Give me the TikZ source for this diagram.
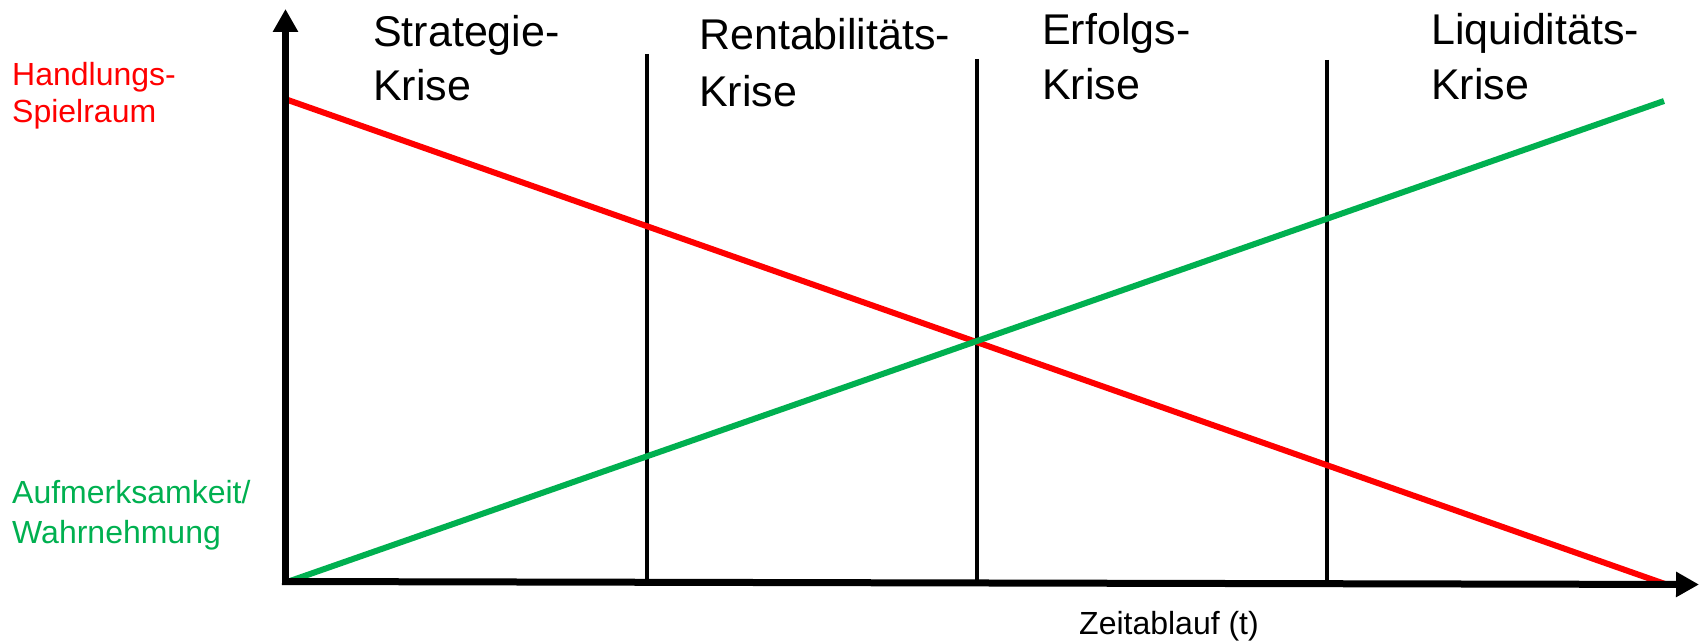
\documentclass[tikz,border=0pt]{standalone}
\usepackage{fontspec}
\setmainfont{Liberation Sans}
\usetikzlibrary{arrows.meta}
\definecolor{kred}{RGB}{255,0,0}
\definecolor{kgreen}{RGB}{0,176,80}
\begin{document}
\begin{tikzpicture}[x=1pt,y=-1pt,
  axis/.style={line width=7pt,-{Triangle[length=23pt,width=24pt]}},
  phase/.style={line width=3.5pt},
  curve/.style={line width=6pt},
  big/.style={anchor=base west,inner sep=0pt,font=\fontsize{43}{50}\selectfont},
  side/.style={anchor=base west,inner sep=0pt,font=\fontsize{32}{37}\selectfont},
  small/.style={anchor=base west,inner sep=0pt,font=\fontsize{32}{36}\selectfont}]
\useasboundingbox (0,0) rectangle (1700,644);
% axis points
\coordinate (o) at (282,581.5);
\coordinate (ob) at (285.5,585);
\coordinate (xend) at (1699,584.5);
\coordinate (ytop) at (285.5,9);
% phase lines
\coordinate (p1t) at (647,54);
\coordinate (p1b) at (647,582);
\coordinate (p2t) at (977,59);
\coordinate (p2b) at (977,583);
\coordinate (p3t) at (1327,60);
\coordinate (p3b) at (1327,583);
\draw[phase] (p1t) -- (p1b);
\draw[phase] (p2t) -- (p2b);
\draw[phase] (p3t) -- (p3b);
% curves
\coordinate (rs) at (285,99);
\coordinate (re) at (1665,584);
\coordinate (gs) at (290,581);
\coordinate (ge) at (1664,101);
\draw[curve,kred] (rs) -- (re);
\draw[curve,kgreen] (gs) -- (ge);
% axes
\draw[axis] (o) -- (xend);
\draw[axis] (ob) -- (ytop);
% labels
\node[big] (s1) at (373,47) {Strategie-};
\node[big] (s2) at (373,101) {Krise};
\node[big] (r1) at (699,50) {Rentabilitäts-};
\node[big] (r2) at (699,107) {Krise};
\node[big] (e1) at (1042,45) {Erfolgs-};
\node[big] (e2) at (1042,100) {Krise};
\node[big] (l1) at (1431,45) {Liquiditäts-};
\node[big] (l2) at (1431,100) {Krise};
\node[side,text=kred] (h1) at (12,86) {Handlungs-};
\node[side,text=kred] (h2) at (12,123) {Spielraum};
\node[side,text=kgreen] (a1) at (12,503) {Aufmerksamkeit/};
\node[side,text=kgreen] (a2) at (12,543) {Wahrnehmung};
\node[small] (z) at (1079,634) {Zeitablauf (t)};
\end{tikzpicture}
\end{document}
